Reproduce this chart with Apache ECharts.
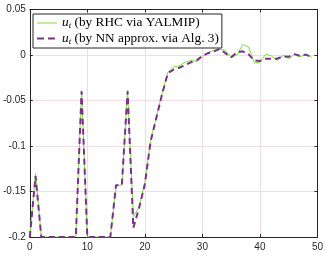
<!DOCTYPE html>
<html><head><meta charset="utf-8">
<script src="https://cdn.jsdelivr.net/npm/echarts@6/dist/echarts.min.js"></script>
<style>html,body{margin:0;padding:0;background:#fff}#c{width:326px;height:256px}</style>
</head><body><div id="c"></div>
<script>
var steps = [0,1,2,3,4,5,6,7,8,9,10,11,12,13,14,15,16,17,18,19,20,21,22,23,24,25,26,27,28,29,30,31,32,33,34,35,36,37,38,39,40,41,42,43,44,45,46,47,48,49];
var rhc = [-0.2,-0.13,-0.2,-0.2,-0.2,-0.2,-0.2,-0.2,-0.2,-0.039,-0.2,-0.2,-0.2,-0.2,-0.2,-0.143,-0.143,-0.039,-0.178,-0.167,-0.14,-0.094,-0.068,-0.042,-0.019,-0.013,-0.012,-0.008,-0.006,-0.007,-0.002,0.003,0.005,0.0065,0.005,-0.003,0.0,0.0115,0.009,-0.008,-0.0085,0.001,-0.001,-0.006,-0.0005,-0.004,0.0005,-0.002,0.0005,-0.0024];
var nn = [-0.2,-0.133,-0.2,-0.2,-0.2,-0.2,-0.2,-0.2,-0.2,-0.04,-0.2,-0.2,-0.2,-0.2,-0.2,-0.143,-0.143,-0.04,-0.19,-0.168,-0.142,-0.095,-0.069,-0.043,-0.02,-0.016,-0.014,-0.011,-0.008,-0.006,-0.001,0.002,0.004,0.0065,0.002,-0.0025,0.003,0.004,0.001,-0.006,-0.0065,-0.004,-0.004,-0.004,-0.0016,-0.002,0.001,-0.001,0.0005,-0.0024];
var yTicks = [-0.2,-0.15,-0.1,-0.05,0,0.05];
var xTicks = [0,10,20,30,40,50];
var seriesNames = ['RHC', 'NN'];
var legendTexts = {RHC: ' (by RHC via YALMIP)', NN: ' (by NN approx. via Alg. 3)'};

function pairs(ys){ return steps.map(function(t,i){ return [t, ys[i]]; }); }
var axisCol = '#262626';
var gridCol = '#f3dbe3';
var greenCol = '#7ee03a';
var purpleCol = '#7e2f8e';
// legend icons: box 20x14 with anchoring dots so scaling is 1:1
var anchor = 'M0,0h0.01v0.01h-0.01z M19.99,13.99h0.01v0.01h-0.01z ';
var iconSolid = 'path://' + anchor + 'M0,6.5h20v1h-20z';
var iconDashed = 'path://' + anchor + 'M0,6h7v2h-7z M11,6h7v2h-7z';
var chart = echarts.init(document.getElementById('c'), null, {renderer:'canvas'});
var yLabel = function(v){ var r = Math.round(v*100)/100; return String(r); };
chart.setOption({
  animation:false,
  backgroundColor:'#fff',
  grid:{left:29, right:8, top:9.5, bottom:19, containLabel:false},
  legend:{
    left:33, top:14, orient:'vertical', itemGap:1, itemWidth:20, itemHeight:14,
    padding:[2,3,2,4], borderColor:axisCol, borderWidth:1, backgroundColor:'#fff',
    data:[{name:'RHC', icon:iconSolid, itemStyle:{color:greenCol}},{name:'NN', icon:iconDashed, itemStyle:{color:purpleCol}}],
    formatter:function(n){ return '{u|u}{t|t}{r|' + legendTexts[n] + '}'; },
    textStyle:{
      color:'#000',
      rich:{
        u:{fontFamily:'Liberation Serif', fontStyle:'italic', fontSize:13.3, color:'#000'},
        t:{fontFamily:'Liberation Serif', fontStyle:'italic', fontSize:9, color:'#000', padding:[6,0,0,0]},
        r:{fontFamily:'Liberation Serif', fontSize:13.3, color:'#000'}
      }
    }
  },
  xAxis:[{
    type:'value', min:0, max:50, interval:10, position:'bottom',
    axisLine:{show:true, onZero:false, lineStyle:{color:axisCol, width:1}},
    axisTick:{show:true, inside:true, length:3, lineStyle:{color:axisCol}},
    axisLabel:{color:axisCol, fontFamily:'Liberation Sans', fontSize:10, margin:5},
    splitLine:{show:true, lineStyle:{color:gridCol, width:1}}
  },{
    type:'value', min:0, max:50, interval:10, position:'top',
    axisLine:{show:true, onZero:false, lineStyle:{color:axisCol, width:1}},
    axisTick:{show:true, inside:true, length:3, lineStyle:{color:axisCol}},
    axisLabel:{show:false}, splitLine:{show:false}
  }],
  yAxis:[{
    type:'value', min:-0.2, max:0.05, interval:0.05, position:'left',
    axisLine:{show:true, onZero:false, lineStyle:{color:axisCol, width:1}},
    axisTick:{show:true, inside:true, length:3, lineStyle:{color:axisCol}},
    axisLabel:{color:axisCol, fontFamily:'Liberation Sans', fontSize:10, margin:4, formatter:yLabel},
    splitLine:{show:true, lineStyle:{color:gridCol, width:1}}
  },{
    type:'value', min:-0.2, max:0.05, interval:0.05, position:'right',
    axisLine:{show:true, onZero:false, lineStyle:{color:axisCol, width:1}},
    axisTick:{show:true, inside:true, length:3, lineStyle:{color:axisCol}},
    axisLabel:{show:false}, splitLine:{show:false}
  }],
  series:[{
    name:'RHC', type:'line', data:pairs(rhc), symbol:'none', showSymbol:false,
    lineStyle:{color:greenCol, width:1}, itemStyle:{color:greenCol}, z:2
  },{
    name:'NN', type:'line', data:pairs(nn), symbol:'none', showSymbol:false,
    lineStyle:{color:purpleCol, width:2, type:[6,4]}, itemStyle:{color:purpleCol}, z:3
  }]
});
</script></body></html>
